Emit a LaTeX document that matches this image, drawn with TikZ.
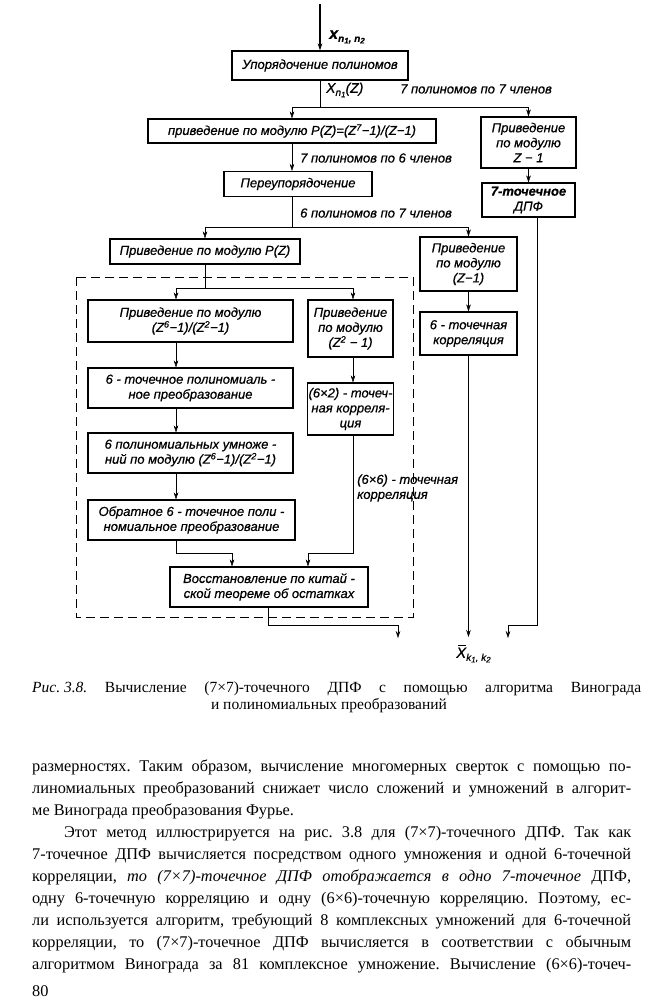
\documentclass[tikz,border=0pt]{standalone}
\usepackage{fontspec}
\setmainfont{Liberation Serif}
\newfontfamily\gost[FakeBold=0.6]{Liberation Sans}
\usetikzlibrary{arrows.meta, positioning, calc}
\newcommand{\lowr}[1]{\raisebox{-3pt}{\fontsize{10}{10}\selectfont #1}}
\newcommand{\lowrr}[1]{\raisebox{-1.5pt}{\fontsize{8}{8}\selectfont #1}}
\frenchspacing

\begin{document}
\begin{tikzpicture}[x=1pt, y=-1pt, >={Stealth[length=7pt,width=4.5pt]},
                    every node/.style={font={\gost\itshape\fontsize{13}{15}\selectfont}},
                    blk/.style={draw, line width=1.1pt, align=center, inner sep=1pt},
                    lbl/.style={anchor=west, inner sep=0pt},
                    txt/.style={anchor=base west, inner sep=0pt,
                                font={\rmfamily\fontsize{16.3}{20}\selectfont}}]
  \useasboundingbox (0,0) rectangle (650,1000);
  % upper chain
  \node[blk, minimum width=176, minimum height=29] (ordr) at (320,65.5) {Упорядочение полиномов};
  \node[blk, minimum width=288, minimum height=24] (modP) at (292,131) {приведение по модулю P(Z)=(Z\textsuperscript{7}−1)/(Z−1)};
  \node[blk, minimum width=95, minimum height=51] (mz1) at (528.5,142.5) {Приведение\\по модулю\\Z − 1};
  \node[blk, minimum width=148, minimum height=25] (reord) at (298,184) {Переупорядочение};
  \node[blk, minimum width=93, minimum height=34] (dft7) at (528.5,200) {\bfseries 7-точечное\\ДПФ};
  \node[blk, minimum width=190, minimum height=25] (modP2) at (205,251.5) {Приведение по модулю P(Z)};
  \node[blk, minimum width=97, minimum height=54] (mz1b) at (468.5,264) {Приведение\\по модулю\\(Z−1)};
  \node[blk, minimum width=97, minimum height=43] (corr6) at (468.5,333.5) {6 - точечная\\корреляция};
  % dashed block
  \draw[line width=1pt, dash pattern=on 9pt off 5pt] (76,277) rectangle (413,617);
  \node[blk, minimum width=205, minimum height=42] (modQ) at (190.5,321) {Приведение по модулю\\(Z\textsuperscript{6}−1)/(Z\textsuperscript{2}−1)};
  \node[blk, minimum width=85, minimum height=57] (modZ2) at (350.5,328.5) {Приведение\\по модулю\\(Z\textsuperscript{2} − 1)};
  \node[blk, minimum width=205, minimum height=40] (ptr) at (190.5,388) {6 - точечное полиномиаль -\\ное преобразование};
  \node[blk, minimum width=85, minimum height=52] (corr62) at (350.5,409) {(6×2) - точеч-\\ная корреля-\\ция};
  \node[blk, minimum width=205, minimum height=40] (mult) at (190.5,453) {6 полиномиальных умноже -\\ний по модулю (Z\textsuperscript{6}−1)/(Z\textsuperscript{2}−1)};
  \node[blk, minimum width=207, minimum height=40] (iptr) at (191.5,520) {Обратное 6 - точечное поли -\\номиальное преобразование};
  \node[blk, minimum width=198, minimum height=40] (crt) at (269,587) {Восстановление по китай -\\ской теореме об остатках};
  % junctions and free ends
  \coordinate (in) at (320,4);
  \coordinate (j1) at (320,107);
  \coordinate (j2) at (292,227);
  \coordinate (j3) at (205,288);
  \coordinate (colL) at (176,0);
  \coordinate (colM) at (353,0);
  \coordinate (outL) at (398,638);
  \coordinate (outM) at (468.5,637);
  \coordinate (outR) at (508,638);
  % connectors
  \draw[->, line width=1.4pt] (in) -- (ordr.north);
  \draw (ordr.south) -- (j1);
  \draw[->] (j1) -| (modP.north);
  \draw[->] (j1) -| (mz1.north);
  \draw[->] (modP.south) -- (modP.south |- reord.north);
  \draw[->] (mz1.south) -- (dft7.north);
  \draw (reord.south -| j2) -- (j2);
  \draw[->] (j2) -| (modP2.north);
  \draw[->] (j2) -| (mz1b.north);
  \draw[->] (mz1b.south) -- (corr6.north);
  \draw (modP2.south) -- (j3);
  \draw[->] (j3) -| (modQ.north -| colL);
  \draw[->] (j3) -| (modZ2.north -| colM);
  \draw[->] (modQ.south -| colL) -- (ptr.north -| colL);
  \draw[->] (ptr.south -| colL) -- (mult.north -| colL);
  \draw[->] (mult.south -| colL) -- (iptr.north -| colL);
  \draw[->] (modZ2.south -| colM) -- (corr62.north -| colM);
  \draw[->] (iptr.south -| colL) -- ++(0,13) -| ([xshift=-37pt]crt.north);
  \draw[->] (corr62.south -| colM) -- ++(0,118) -| ([xshift=39pt]crt.north);
  \draw[->] ([xshift=-1pt]crt.south) -- ++(0,18) -| (outL);
  \draw[->] (corr6.south) -- (outM);
  \draw[->] ([xshift=8.5pt]dft7.south) -- ++(0,408) -| (outR);
  % labels on the flow
  \node[lbl, font={\gost\itshape\bfseries\fontsize{16}{16}\selectfont}] (xin) at (329,37)
       {x\lowr{n\lowrr{1}, n\lowrr{2}}};
  \node[lbl, font={\gost\itshape\fontsize{14}{14}\selectfont}] (xz) at (326,90) {X\lowr{n\lowrr{1}}(Z)};
  \node[lbl] (n77) at (400,89) {7 полиномов по 7 членов};
  \node[lbl] (n76) at (300,158) {7 полиномов по 6 членов};
  \node[lbl] (n67) at (300,213) {6 полиномов по 7 членов};
  \node[lbl, align=left] (c66) at (357,488) {(6×6) - точечная\\корреляция};
  \node[lbl, font={\gost\itshape\fontsize{15}{15}\selectfont}] (xout) at (456,655)
       {X\lowr{k\lowrr{1}, k\lowrr{2}}};
  \draw ([xshift=1.5pt,yshift=2.5pt]xout.north west) -- ++(8,0);
  % caption
  \node[txt, font={\rmfamily\fontsize{15.5}{18}\selectfont}] (cap1) at (32,692)
       {\makebox[609pt][s]{\mbox{\textit{Рис. 3.8.}} Вычисление (7×7)-точечного ДПФ с помощью алгоритма Винограда}};
  \node[txt, anchor=base, font={\rmfamily\fontsize{15.5}{18}\selectfont}] (cap2) at (329,709)
       {и полиномиальных преобразований};
  % text of the page
  \node[txt] (t1) at (32,771) {\makebox[599pt][s]{размерностях. Таким образом, вычисление многомерных сверток с помощью по-}};
  \node[txt] (t2) at (32,793) {\makebox[599pt][s]{линомиальных преобразований снижает число сложений и умножений в алгорит-}};
  \node[txt] (t3) at (32,815) {ме Винограда преобразования Фурье.};
  \node[txt] (t4) at (64,837) {\makebox[567pt][s]{Этот метод иллюстрируется на рис. 3.8 для (7×7)-точечного ДПФ. Так как}};
  \node[txt] (t5) at (32,859) {\makebox[599pt][s]{7-точечное ДПФ вычисляется посредством одного умножения и одной 6-точечной}};
  \node[txt] (t6) at (32,881) {\makebox[599pt][s]{корреляции, \textit{то (7×7)-точечное ДПФ отображается в одно 7-точечное} ДПФ,}};
  \node[txt] (t7) at (32,903) {\makebox[599pt][s]{одну 6-точечную корреляцию и одну (6×6)-точечную корреляцию. Поэтому, ес-}};
  \node[txt] (t8) at (32,925) {\makebox[599pt][s]{ли используется алгоритм, требующий 8 комплексных умножений для 6-точечной}};
  \node[txt] (t9) at (32,947) {\makebox[599pt][s]{корреляции, то (7×7)-точечное ДПФ вычисляется в соответствии с обычным}};
  \node[txt] (t10) at (32,969) {\makebox[599pt][s]{алгоритмом Винограда за 81 комплексное умножение. Вычисление (6×6)-точеч-}};
  \node[txt] (pg) at (32,996) {80};
\end{tikzpicture}
\end{document}
